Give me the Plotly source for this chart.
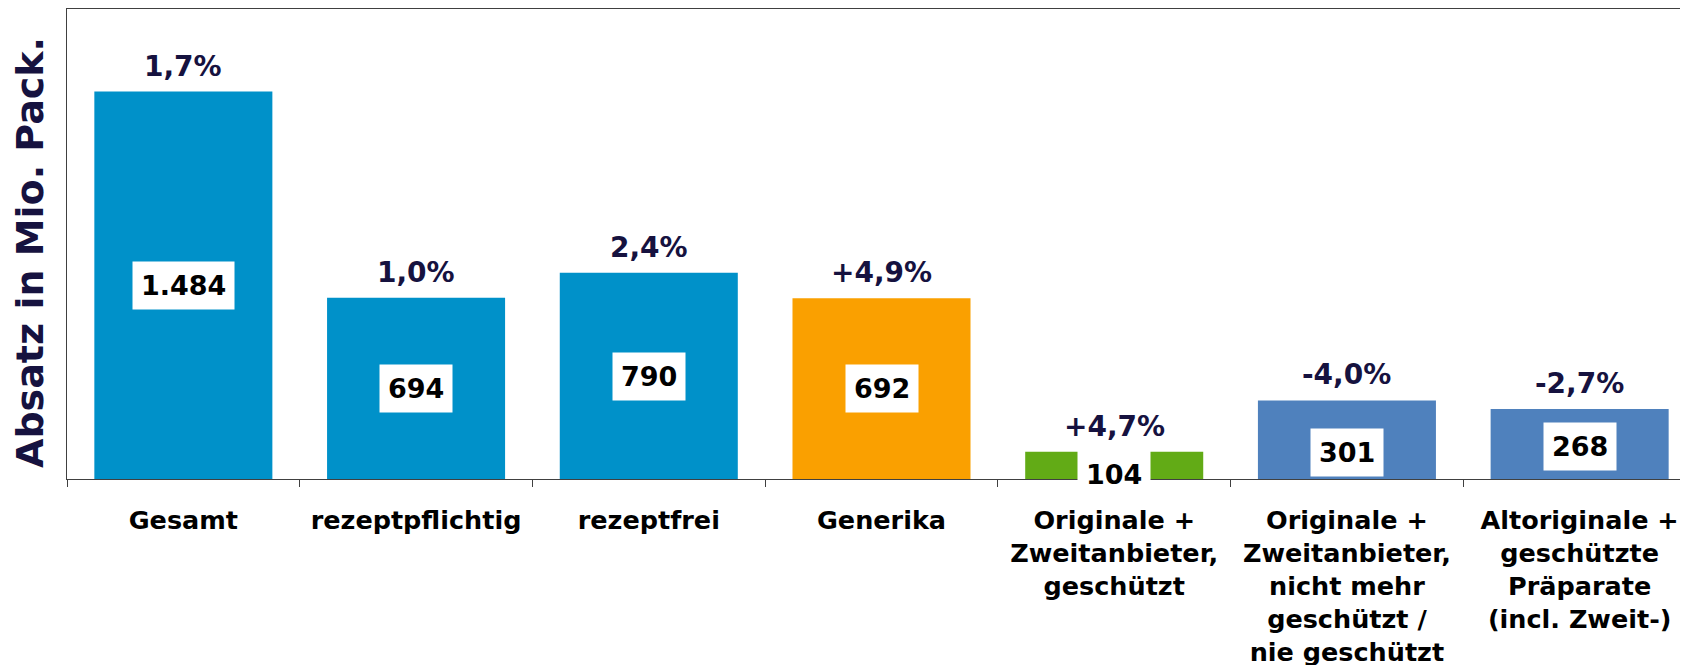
import plotly.graph_objects as go

categories = ["Gesamt", "rezeptpflichtig", "rezeptfrei", "Generika",
              "Originale +<br>Zweitanbieter,<br>geschützt",
              "Originale +<br>Zweitanbieter,<br>nicht mehr<br>geschützt /<br>nie geschützt",
              "Altoriginale +<br>geschützte<br>Präparate<br>(incl. Zweit-)"]
absatz = [1484, 694, 790, 692, 104, 301, 268]
value_text = ["1.484", "694", "790", "692", "104", "301", "268"]
change_text = ["1,7%", "1,0%", "2,4%", "+4,9%", "+4,7%", "-4,0%", "-2,7%"]

colors = ["#0091c9", "#0091c9", "#0091c9", "#faa000", "#62ab16", "#4f81bd", "#4f81bd"]
# vertical centre of the white value boxes (data units)
box_y = [742, 345, 394, 345, 19, 101, 126]

NAVY = "#16123f"
FONT = "DejaVu Sans"

fig = go.Figure(go.Bar(x=categories, y=absatz, marker=dict(color=colors, line_width=0),
                       width=0.765))

for cat, val, pct in zip(categories, absatz, change_text):
    fig.add_annotation(x=cat, y=val, text="<b>%s</b>" % pct, showarrow=False,
                       yanchor="bottom", yshift=7,
                       font=dict(family=FONT, size=28, color=NAVY))

for cat, yy, txt in zip(categories, box_y, value_text):
    fig.add_annotation(x=cat, y=yy, text="<b>%s</b>" % txt, showarrow=False,
                       bgcolor="white", borderpad=8,
                       font=dict(family=FONT, size=27, color="black"))

fig.add_annotation(xref="paper", yref="paper", x=0, y=0.5, xanchor="center",
                   yanchor="middle", xshift=-37, yshift=-9,
                   text="<b>Absatz in Mio. Pack.</b>", textangle=-90, showarrow=False,
                   font=dict(family=FONT, size=38, color=NAVY))

fig.update_layout(
    width=1688, height=665,
    margin=dict(l=59, r=0, t=1, b=194),
    plot_bgcolor="white", paper_bgcolor="white",
    showlegend=False,
    xaxis=dict(range=[-0.5, 6.5], showline=True, linecolor="#404040", linewidth=1,
               mirror=True, ticks="outside", tickson="boundaries", ticklen=7,
               tickcolor="#404040", showgrid=False,
               tickfont=dict(family=FONT, size=25.5, color="black"),
               ticklabelstandoff=18),
    yaxis=dict(range=[0, 1800], showline=True, linecolor="#404040", linewidth=1,
               showticklabels=False, showgrid=False, zeroline=False, ticks=""),
)

fig.update_xaxes(tickprefix="<b>", ticksuffix="</b>")

fig.write_html("out.html")
